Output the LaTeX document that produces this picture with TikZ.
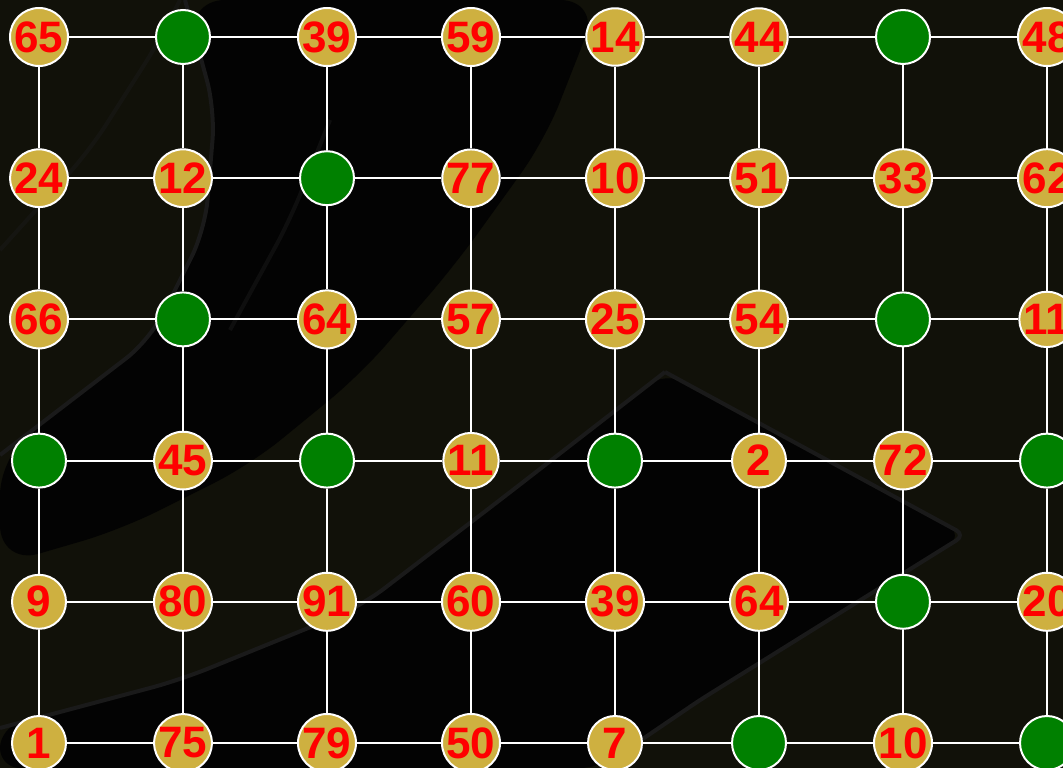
\documentclass[tikz,border=0pt]{standalone}
\usepackage{fontspec}
\setmainfont{Liberation Sans}
\definecolor{gold}{RGB}{206,176,64}
\definecolor{grn}{RGB}{0,128,0}
\definecolor{olivebg}{RGB}{17,17,9}
\definecolor{blk}{RGB}{3,3,3}
\definecolor{swoosh}{RGB}{26,26,26}
\tikzset{
  cellbase/.style={circle, draw=white, line width=2pt, minimum size=54pt, inner sep=0pt},
  goldcell/.style={cellbase, fill=gold, text=red, font=\bfseries\fontsize{44pt}{44pt}\selectfont},
  greencell/.style={cellbase, fill=grn},
  edge/.style={draw=white, line width=2pt},
  band/.style={draw=swoosh, line width=4pt, line join=round, rounded corners=30pt}
}
\begin{document}
\begin{tikzpicture}[x=1pt,y=-1pt]
\useasboundingbox (0,0) rectangle (1063,768);
\clip (0,0) rectangle (1063,768);
% background
\fill[olivebg] (0,0) rectangle (1063,768);
\fill[blk, rounded corners=40pt] (185,0) -- (600,0) -- (545,140) -- (455,265) -- (360,375) -- (250,465) -- (120,530) -- (0,565) -- (0,455) -- (150,340) -- (205,230) -- (215,110) -- cycle;
\fill[blk, rounded corners=20pt] (0,728) -- (180,680) -- (360,607) -- (500,500) -- (665,372) -- (965,535) -- (700,700) -- (600,768) -- (0,768) -- cycle;
\draw[band] (0,728) -- (180,680) -- (360,607) -- (500,500) -- (665,372);
\draw[band, rounded corners=10pt] (665,372) -- (965,535) -- (700,700) -- (600,768);
\draw[band] (0,455) -- (150,340) -- (205,230) -- (215,110) -- (185,0);
\draw[band, draw opacity=0.5] (0,250) -- (90,150) -- (160,40) -- (180,0);
\draw[band, draw opacity=0.5] (230,330) -- (290,220) -- (330,120);
% nodes
\def\tmpG{G}
\foreach \row [count=\r from 0] in {{65,G,39,59,14,44,G,48},{24,12,G,77,10,51,33,62},{66,G,64,57,25,54,G,11},{G,45,G,11,G,2,72,G},{9,80,91,60,39,64,G,20},{1,75,79,50,7,G,10,G}} {
  \foreach \v [count=\c from 0] in \row {
    \ifx\v\tmpG
      \node[greencell] (n-\r-\c) at ({39+144*\c},{37+141.2*\r}) {};
    \else
      \node[goldcell] (n-\r-\c) at ({39+144*\c},{37+141.2*\r}) {\v};
    \fi
  }
}
% connectors
\foreach \r in {0,...,5} {
  \foreach \c [evaluate=\c as \cn using int(\c+1)] in {0,...,6} {
    \draw[edge] (n-\r-\c) -- (n-\r-\cn);
  }
}
\foreach \r [evaluate=\r as \rn using int(\r+1)] in {0,...,4} {
  \foreach \c in {0,...,7} {
    \draw[edge] (n-\r-\c) -- (n-\rn-\c);
  }
}
\end{tikzpicture}
\end{document}
